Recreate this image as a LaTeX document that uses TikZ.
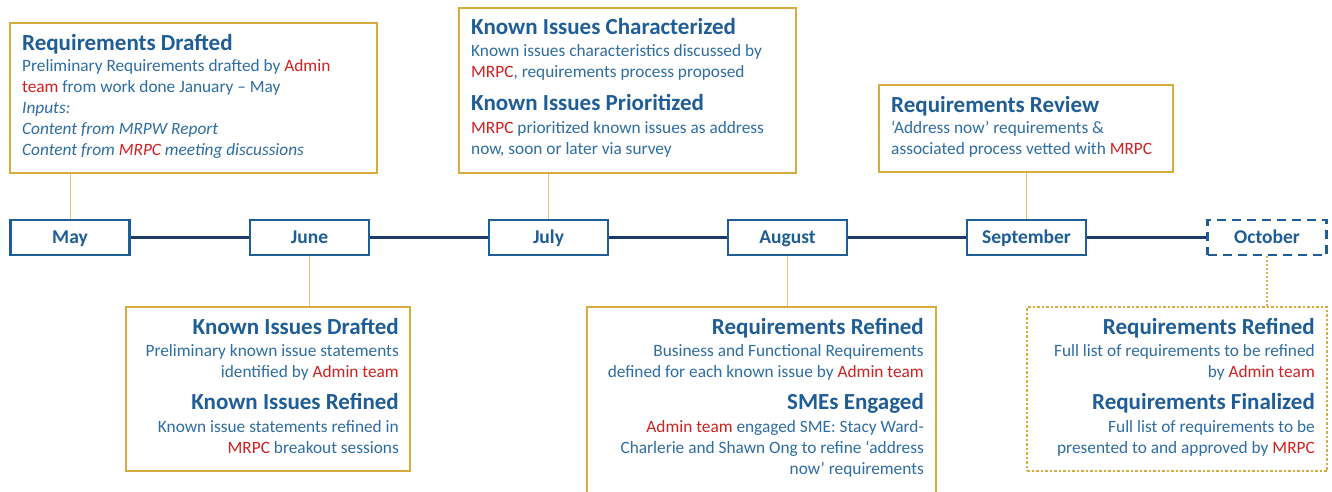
\documentclass[tikz,border=0pt]{standalone}
\usepackage{fontspec}
\setmainfont{Carlito}
\definecolor{tblue}{RGB}{31,93,150}
\definecolor{bblue}{RGB}{46,109,164}
\definecolor{rred}{RGB}{208,32,32}
\definecolor{gold}{RGB}{214,172,62}
\definecolor{lgold}{RGB}{226,196,120}
\definecolor{dgold}{RGB}{222,170,80}
\definecolor{navy}{RGB}{28,60,102}
\newcommand{\ttl}[1]{{\fontsize{23}{21}\selectfont\bfseries\color{tblue}#1}}
\newcommand{\rd}[1]{{\color{rred}#1}}
\tikzset{
  month/.style={draw=tblue, line width=2.6pt, minimum width=119pt, minimum height=35pt, inner sep=0pt,
    text height=14.5pt, text depth=2pt,
    font=\fontsize{19.5}{21}\selectfont\bfseries, text=tblue, fill=white},
  evbox/.style={draw=gold, line width=1.6pt, inner sep=0pt, fill=white},
  evtext/.style={inner sep=0pt, font=\fontsize{17.3}{21}\selectfont, text=bblue},
  link/.style={draw=lgold, line width=1pt},
}
\begin{document}
\begin{tikzpicture}[x=1pt,y=-1pt]
\useasboundingbox (0,0) rectangle (1332,491);
% month nodes
\node[month] (may) at (70,237.5) {May};
\node[month] (jun) at (309.5,237.5) {June};
\node[month] (jul) at (548.5,237.5) {July};
\node[month] (aug) at (787.5,237.5) {August};
\node[month] (sep) at (1026.5,237.5) {September};
\node[month, dash pattern=on 9pt off 6pt] (oct) at (1267,237.5) {October};
\draw[navy, line width=2.6pt] (may) -- (jun) -- (jul) -- (aug) -- (sep) -- (oct);
% event boxes (frames)
\node[evbox, minimum width=367pt, minimum height=150pt] (b1) at (193.5,98) {};
\node[evbox, minimum width=337pt, minimum height=165pt] (b2) at (627.5,90.5) {};
\node[evbox, minimum width=294pt, minimum height=87pt] (b3) at (1026,128.5) {};
\node[evbox, minimum width=284pt, minimum height=164pt] (b4) at (268,389) {};
\node[evbox, minimum width=349pt, minimum height=200pt] (b5) at (761.5,407) {};
\node[evbox, draw=gold, dash pattern=on 2.5pt off 2pt, line width=1.6pt, minimum width=300pt, minimum height=164pt] (b6) at (1177,389) {};
% connectors
\draw[link] (may.north) -- (may.north |- b1.south);
\draw[link] (jul.north) -- (jul.north |- b2.south);
\draw[link] (sep.north) -- (sep.north |- b3.south);
\draw[link] (jun.south) -- (jun.south |- b4.north);
\draw[link] (aug.south) -- (aug.south |- b5.north);
\draw[link, draw=dgold, line width=1.2pt, dash pattern=on 2pt off 2pt] (oct.south) -- (oct.south |- b6.north);
% texts (anchored at baseline of last line)
\node[evtext, anchor=base west, align=left] (t1) at (22,155) {\ttl{Requirements Drafted}\\
Preliminary Requirements drafted by \rd{Admin}\\
\rd{team} from work done January -- May\\
\textit{Inputs:}\\
\textit{Content from MRPW Report}\\
\textit{Content from \rd{MRPC} meeting discussions}};
\node[evtext, anchor=base west, align=left] (t2) at (471,154) {\ttl{Known Issues Characterized}\\[1.5pt]
Known issues characteristics discussed by\\
\rd{MRPC}, requirements process proposed\\[12pt]
\ttl{Known Issues Prioritized}\\[1.5pt]
\rd{MRPC} prioritized known issues as address\\
now, soon or later via survey};
\node[evtext, anchor=base west, align=left] (t3) at (891,154) {\ttl{Requirements Review}\\
‘Address now’ requirements \&\\
associated process vetted with \rd{MRPC}};
\node[evtext, anchor=base east, align=right] (t4) at (399,453) {\ttl{Known Issues Drafted}\\[1.5pt]
Preliminary known issue statements\\
identified by \rd{Admin team}\\[11pt]
\ttl{Known Issues Refined}\\[1.5pt]
Known issue statements refined in\\
\rd{MRPC} breakout sessions};
\node[evtext, anchor=base east, align=right] (t5) at (924,474) {\ttl{Requirements Refined}\\[1.5pt]
Business and Functional Requirements\\
defined for each known issue by \rd{Admin team}\\[11pt]
\ttl{SMEs Engaged}\\[1.5pt]
\rd{Admin team} engaged SME: Stacy Ward-\\
Charlerie and Shawn Ong to refine ‘address\\
now’ requirements};
\node[evtext, anchor=base east, align=right] (t6) at (1315,453) {\ttl{Requirements Refined}\\[1.5pt]
Full list of requirements to be refined\\
by \rd{Admin team}\\[11pt]
\ttl{Requirements Finalized}\\[1.5pt]
Full list of requirements to be\\
presented to and approved by \rd{MRPC}};
\end{tikzpicture}
\end{document}
